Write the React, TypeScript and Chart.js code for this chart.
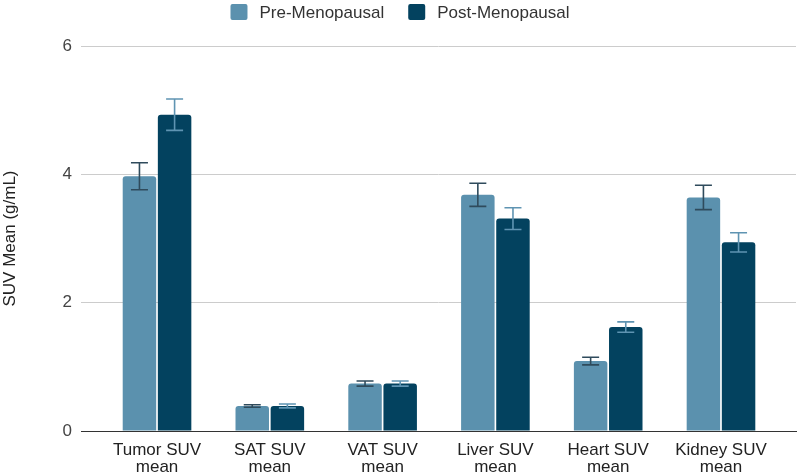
import React, { useEffect, useRef } from "react";
import { Chart, registerables } from "chart.js";

Chart.register(...registerables);

const categories: string[][] = [
  ["Tumor SUV", "mean"],
  ["SAT SUV", "mean"],
  ["VAT SUV", "mean"],
  ["Liver SUV", "mean"],
  ["Heart SUV", "mean"],
  ["Kidney SUV", "mean"],
];
const preValues = [3.97, 0.39, 0.74, 3.68, 1.09, 3.64];
const preErrors = [0.21, 0.02, 0.04, 0.18, 0.06, 0.19];
const postValues = [4.93, 0.39, 0.74, 3.31, 1.62, 2.94];
const postErrors = [0.245, 0.03, 0.04, 0.17, 0.08, 0.15];
const yTicks = [0, 2, 4, 6];

const PRE_COLOR = "#5b91ae";
const POST_COLOR = "#03425f";
const PRE_ERR_COLOR = "#2f4b5c";
const POST_ERR_COLOR = "#5f94b2";
const FONT = "'Liberation Sans', Arial, sans-serif";
const FS = 17;

const errorBarPlugin = {
  id: "errorBars",
  afterDatasetsDraw(chart: any) {
    const ctx = chart.ctx;
    const y = chart.scales.y;
    chart.data.datasets.forEach((ds: any, di: number) => {
      const meta = chart.getDatasetMeta(di);
      ctx.save();
      ctx.strokeStyle = ds.errorColor;
      ctx.lineWidth = 1.6;
      meta.data.forEach((el: any, i: number) => {
        const v = ds.data[i].y;
        const e = ds.errors[i];
        const top = y.getPixelForValue(v + e);
        const bot = y.getPixelForValue(v - e);
        const x = el.x;
        const half = 8.5;
        ctx.beginPath();
        ctx.moveTo(x, top);
        ctx.lineTo(x, bot);
        ctx.moveTo(x - half, top);
        ctx.lineTo(x + half, top);
        ctx.moveTo(x - half, bot);
        ctx.lineTo(x + half, bot);
        ctx.stroke();
      });
      ctx.restore();
    });
  },
};

const legendPlugin = {
  id: "customLegend",
  afterDraw(chart: any) {
    const ctx = chart.ctx;
    ctx.save();
    ctx.font = `${FS}px ${FONT}`;
    ctx.textBaseline = "middle";
    ctx.textAlign = "left";
    const boxW = 17;
    const boxH = 16;
    const gapText = 12;
    const gapItem = 24;
    const items = chart.data.datasets.map((ds: any) => ({
      text: ds.label,
      color: ds.backgroundColor,
      w: ctx.measureText(ds.label).width,
    }));
    const total =
      items.reduce((s: number, it: any) => s + boxW + gapText + it.w, 0) +
      gapItem * (items.length - 1);
    let x = chart.width / 2 - total / 2;
    const cy = 12;
    items.forEach((it: any) => {
      ctx.fillStyle = it.color;
      ctx.beginPath();
      (ctx as any).roundRect(x, cy - boxH / 2, boxW, boxH, 2);
      ctx.fill();
      ctx.fillStyle = "#333333";
      ctx.fillText(it.text, x + boxW + gapText, cy + 1);
      x += boxW + gapText + it.w + gapItem;
    });
    ctx.restore();
  },
};

export default function App() {
  const canvasRef = useRef<HTMLCanvasElement | null>(null);

  useEffect(() => {
    if (!canvasRef.current) return;
    const chart = new Chart(canvasRef.current, {
      type: "bar",
      data: {
        datasets: [
          {
            label: "Pre-Menopausal",
            data: preValues.map((v, i) => ({ x: i, y: v })),
            backgroundColor: PRE_COLOR,
            borderRadius: 3,
            borderSkipped: "bottom",
            categoryPercentage: 0.623,
            barPercentage: 0.953,
            errors: preErrors,
            errorColor: PRE_ERR_COLOR,
          } as any,
          {
            label: "Post-Menopausal",
            data: postValues.map((v, i) => ({ x: i, y: v })),
            backgroundColor: POST_COLOR,
            borderRadius: 3,
            borderSkipped: "bottom",
            categoryPercentage: 0.623,
            barPercentage: 0.953,
            errors: postErrors,
            errorColor: POST_ERR_COLOR,
          } as any,
        ],
      },
      options: {
        animation: false,
        responsive: false,
        maintainAspectRatio: false,
        layout: { padding: { top: 46, right: 4, left: 0, bottom: 0 } },
        plugins: {
          legend: { display: false },
          tooltip: { enabled: false },
        },
        scales: {
          x: {
            type: "linear",
            offset: false,
            min: -0.674,
            max: 5.665,
            grid: { display: false, drawTicks: false, offset: false },
            border: { display: true, color: "#333333", width: 1 },
            afterBuildTicks: (scale: any) => {
              scale.ticks = categories.map((_, i) => ({ value: i }));
            },
            afterFit: (scale: any) => {
              scale.height = 43;
            },
            ticks: {
              autoSkip: false,
              maxRotation: 0,
              padding: 11,
              color: "#222222",
              font: { family: FONT, size: FS, lineHeight: "17px" },
              callback: (value: any) => categories[Math.round(Number(value))] ?? "",
            },
          },
          y: {
            type: "linear",
            min: 0,
            max: 6,
            afterBuildTicks: (scale: any) => {
              scale.ticks = yTicks.map((v) => ({ value: v }));
            },
            afterFit: (scale: any) => {
              scale.width = 81;
            },
            grid: {
              drawTicks: false,
              color: (c: any) => (c.tick && c.tick.value === 0 ? "#333333" : "#cccccc"),
              lineWidth: 1,
            },
            border: { display: false },
            ticks: {
              padding: 9,
              color: "#444444",
              font: { family: FONT, size: FS },
            },
            title: {
              display: true,
              text: "SUV Mean (g/mL)",
              color: "#222222",
              font: { family: FONT, size: FS },
              padding: { top: 0, bottom: 0 },
            },
          },
        },
      },
      plugins: [errorBarPlugin, legendPlugin],
    });
    return () => chart.destroy();
  }, []);

  return (
    <div style={{ position: "fixed", left: 0, top: 0, width: 800, height: 474, background: "#ffffff" }}>
      <canvas ref={canvasRef} width={800} height={474} style={{ width: 800, height: 474, display: "block" }} />
    </div>
  );
}
